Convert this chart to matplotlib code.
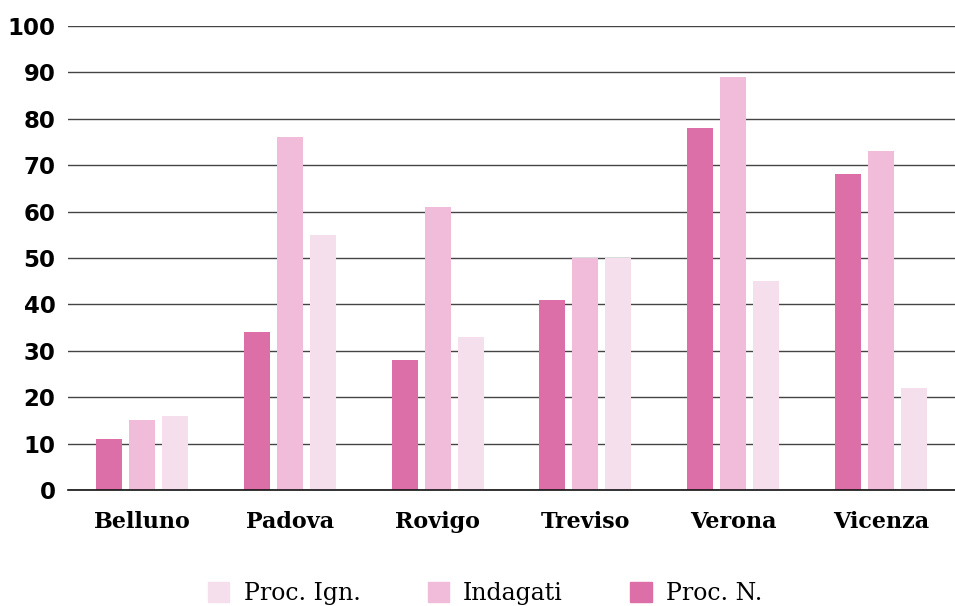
import matplotlib
matplotlib.use("Agg")
import matplotlib.pyplot as plt
import numpy as np
from matplotlib.patches import Patch

categories = ["Belluno", "Padova", "Rovigo", "Treviso", "Verona", "Vicenza"]
proc_n = [11, 34, 28, 41, 78, 68]
indagati = [15, 76, 61, 50, 89, 73]
proc_ign = [16, 55, 33, 50, 45, 22]
yticks = [0, 10, 20, 30, 40, 50, 60, 70, 80, 90, 100]

c_dark = "#dd6fa8"
c_mid = "#f0bcd9"
c_light = "#f6dfec"

fig = plt.figure(figsize=(9.55, 6.06), dpi=100)
ax = fig.add_axes([0.0712, 0.1914, 0.9288, 0.7657])

x = np.arange(len(categories))
w = 0.176
off = 0.223
ax.bar(x - off, proc_n, width=w, color=c_dark, zorder=3)
ax.bar(x, indagati, width=w, color=c_mid, zorder=3)
ax.bar(x + off, proc_ign, width=w, color=c_light, zorder=3)

ax.set_xlim(-0.5, len(categories) - 0.5)
ax.set_ylim(0, 100)
ax.set_yticks(yticks)
ax.set_yticklabels([str(v) for v in yticks], fontsize=16.5, fontweight="bold", family="DejaVu Sans")
ax.set_xticks(x)
ax.set_xticklabels(categories, fontsize=16, fontweight="bold", family="DejaVu Serif")
ax.tick_params(axis="both", length=0)
ax.tick_params(axis="y", pad=9)
ax.tick_params(axis="x", pad=15)
ax.grid(axis="y", color="#444444", linewidth=1.0, zorder=0)
ax.set_axisbelow(True)
for s in ["top", "right", "left"]:
    ax.spines[s].set_visible(False)
ax.spines["bottom"].set_color("#111111")
ax.spines["bottom"].set_linewidth(1.2)
ax.spines["bottom"].set_zorder(4)

handles = [Patch(color=c_light), Patch(color=c_mid), Patch(color=c_dark)]
labels = ["Proc. Ign.", "Indagati", "Proc. N."]
fig.legend(handles, labels, loc="center", bbox_to_anchor=(0.508, 0.02), ncol=3,
           frameon=False, prop={"family": "DejaVu Serif", "size": 17},
           handlelength=0.9, handleheight=0.9, columnspacing=2.85, handletextpad=0.6,
           borderpad=0.0)

fig.savefig("out.png", dpi=100)
